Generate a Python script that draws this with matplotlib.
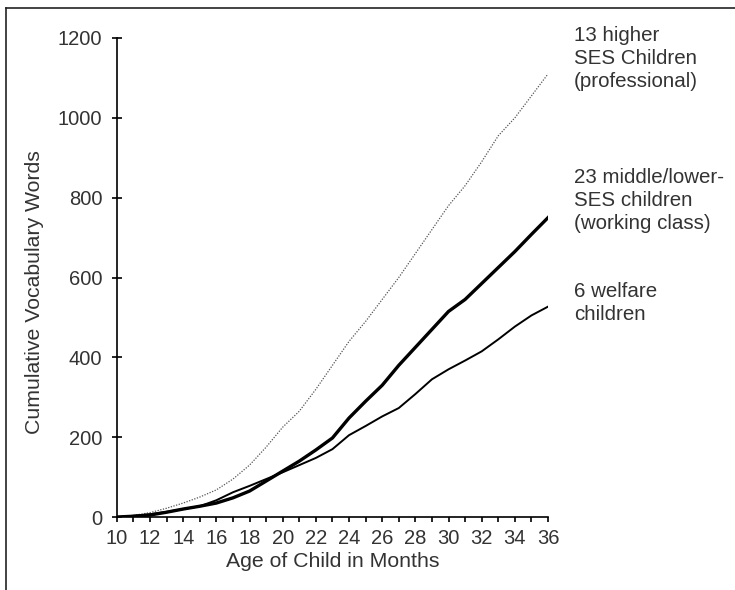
import matplotlib
matplotlib.use("Agg")
import matplotlib.pyplot as plt
from matplotlib.lines import Line2D
import numpy as np

# months of age
months = list(range(10, 37))

# cumulative vocabulary words
professional = [0, 4, 11, 22, 35, 50, 68, 95, 130, 175, 225, 265, 320, 380, 440, 490,
                545, 600, 660, 720, 780, 830, 890, 955, 1000, 1055, 1110]
working = [0, 2, 5, 12, 20, 27, 35, 48, 65, 90, 115, 140, 168, 198, 248, 290,
           330, 380, 425, 470, 515, 545, 585, 625, 665, 708, 750]
welfare = [0, 3, 7, 13, 20, 27, 42, 62, 78, 95, 112, 130, 148, 170, 205, 228,
           252, 273, 308, 345, 370, 392, 415, 445, 477, 505, 527]

labels = ["13 higher\nSES Children\n(professional)",
          "23 middle/lower-\nSES children\n(working class)",
          "6 welfare\nchildren"]
label_y = [1148, 792, 535]

plt.rcParams['font.family'] = ['Liberation Sans', 'DejaVu Sans']
txt = '#333333'

fig = plt.figure(figsize=(7.35, 5.9), dpi=100)
ax = fig.add_axes([0.159, 0.1237, 0.5866, 0.8119])

ax.plot(months, professional, color='#555555', lw=0.9, linestyle=(0, (1, 1.2)))
ax.plot(months, working, color='black', lw=2.4, solid_joinstyle='round')
ax.plot(months, welfare, color='black', lw=1.4, solid_joinstyle='round')

ax.set_xlim(10, 36)
ax.set_ylim(0, 1200)
ax.set_xticks(range(10, 37, 2))
ax.set_xticks(range(11, 37, 2), minor=True)
ax.set_yticks(range(0, 1201, 200))

for s in ['top', 'right']:
    ax.spines[s].set_visible(False)
for s in ['left', 'bottom']:
    ax.spines[s].set_linewidth(1.2)

ax.tick_params(axis='y', direction='inout', length=7, width=1.2, pad=7,
               labelsize=14.5, labelcolor=txt)
ax.tick_params(axis='x', which='both', direction='out', length=3.5, width=1.2)
ax.tick_params(axis='x', pad=5, labelsize=14.5, labelcolor=txt)

ax.set_xlabel("Age of Child in Months", fontsize=15.3, color=txt, labelpad=3)
ax.set_ylabel("Cumulative Vocabulary Words", fontsize=15.3, color=txt)
ax.yaxis.set_label_coords(-0.169, 0.47)

# series labels at the right
for lab, y in zip(labels, label_y):
    ax.text(1.06, y, lab, transform=ax.get_yaxis_transform(), fontsize=14.8,
            color=txt, va='center', ha='left', linespacing=1.27, clip_on=False)

# frame lines on top and left edge of the figure
fig.add_artist(Line2D([0.008, 0.008], [0, 0.986], transform=fig.transFigure,
                      color='#222222', lw=1.2))
fig.add_artist(Line2D([0.008, 1.0], [0.986, 0.986], transform=fig.transFigure,
                      color='#222222', lw=1.2))

fig.savefig("out.png", dpi=100)
